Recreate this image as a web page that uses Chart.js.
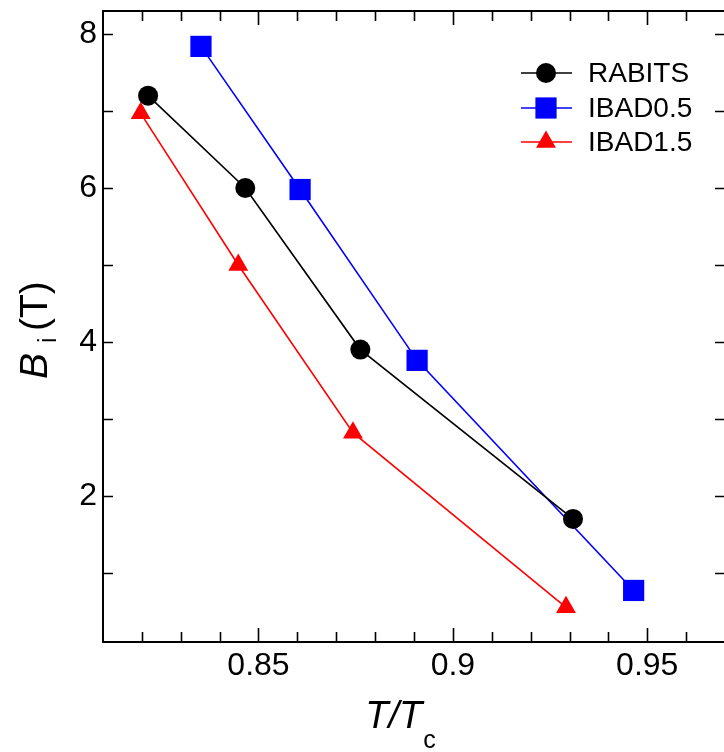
<!DOCTYPE html>
<html>
<head>
<meta charset="utf-8">
<script src="https://cdn.jsdelivr.net/npm/chart.js@4.4.0/dist/chart.umd.min.js"></script>
<style>
  html, body { margin: 0; padding: 0; background: #fff; }
  #wrap { width: 724px; height: 752px; overflow: hidden; }
  #myChart { display: block; margin-top: -5px; }
</style>
</head>
<body>
<div id="wrap"><canvas id="myChart" width="740" height="757"></canvas></div>
<script>
// T/Tc and B_i (tesla) for each tape
const rabitsX = [0.8216, 0.8466, 0.8762, 0.9309];
const rabitsY = [7.2, 6.0, 3.9, 1.7];
const ibad05X = [0.8352, 0.8607, 0.8908, 0.9465];
const ibad05Y = [7.84, 5.98, 3.76, 0.77];
const ibad15X = [0.8197, 0.8448, 0.8743, 0.9291];
const ibad15Y = [6.97, 5.0, 2.82, 0.55];

const seriesNames = ['RABITS', 'IBAD0.5', 'IBAD1.5'];

// axis ticks
const xTicks = [0.82, 0.83, 0.84, 0.85, 0.86, 0.87, 0.88, 0.89, 0.9, 0.91, 0.92, 0.93, 0.94, 0.95, 0.96];
const xMajor = [0.85, 0.9, 0.95];
const xTickLabels = ['0.85', '0.9', '0.95'];
const yTicks = [1, 2, 3, 4, 5, 6, 7, 8];
const yMajor = [2, 4, 6, 8];
const yTickLabels = ['2', '4', '6', '8'];

function pts(xs, ys) {
  return xs.map((x, i) => ({ x: x, y: ys[i] }));
}
function near(a, b) { return Math.abs(a - b) < 1e-6; }
function labelFor(v, majors, labels) {
  const k = majors.findIndex(m => near(m, v));
  return k >= 0 ? labels[k] : '';
}

const FONT = '"Liberation Sans", Arial, sans-serif';
const SHIFT = 5; // canvas sits 5px above the page top

// inward tick marks on all four sides + the frame
const frameTicks = {
  id: 'frameTicks',
  afterDraw(chart) {
    const ctx = chart.ctx;
    const a = chart.chartArea;
    const xs = chart.scales.x, ys = chart.scales.y;
    ctx.save();
    ctx.strokeStyle = '#000';
    ctx.lineWidth = 2;
    ctx.strokeRect(a.left, a.top, a.right - a.left, a.bottom - a.top);
    ctx.lineWidth = 1.6;
    ctx.beginPath();
    xTicks.forEach(v => {
      const p = Math.round(xs.getPixelForValue(v)) + 0.5;
      const len = xMajor.some(m => near(m, v)) ? 14 : 10;
      ctx.moveTo(p, a.bottom); ctx.lineTo(p, a.bottom - len);
      ctx.moveTo(p, a.top); ctx.lineTo(p, a.top + len);
    });
    yTicks.forEach(v => {
      const p = Math.round(ys.getPixelForValue(v)) + 0.5;
      ctx.moveTo(a.left, p); ctx.lineTo(a.left + 10, p);
      ctx.moveTo(a.right, p); ctx.lineTo(a.right - 10, p);
    });
    ctx.stroke();
    ctx.restore();
  }
};

// axis titles with italic symbols and subscripts
const axisTitles = {
  id: 'axisTitles',
  afterDraw(chart) {
    const ctx = chart.ctx;
    ctx.save();
    ctx.translate(0, SHIFT);
    ctx.fillStyle = '#000';
    ctx.textBaseline = 'alphabetic';
    ctx.textAlign = 'left';

    // x: T/Tc
    const big = 'italic 38px ' + FONT;
    const sub = '25px ' + FONT;
    ctx.font = big;
    const wMain = ctx.measureText('T/T').width;
    ctx.font = sub;
    const wSub = ctx.measureText('c').width;
    let x0 = 400 - (wMain + wSub) / 2;
    ctx.font = big;
    ctx.fillText('T/T', x0, 728);
    ctx.font = sub;
    ctx.fillText('c', x0 + wMain + 1, 748);

    // y: B_i(T), rotated
    ctx.translate(47, 379);
    ctx.rotate(-Math.PI / 2);
    ctx.font = 'italic 39px ' + FONT;
    ctx.fillText('B', 0, 0);
    ctx.font = '25px ' + FONT;
    ctx.fillText('i', 36, 9);
    ctx.font = '39px ' + FONT;
    ctx.fillText('(T)', 48, 0);
    ctx.restore();
  }
};

// legend: short line with the marker in the middle
const lineLegend = {
  id: 'lineLegend',
  afterDraw(chart) {
    const ctx = chart.ctx;
    const rows = [73, 108, 142];
    ctx.save();
    ctx.translate(0, SHIFT);
    chart.data.datasets.forEach((ds, i) => {
      const y = rows[i];
      ctx.strokeStyle = ds.borderColor;
      ctx.lineWidth = 1.6;
      ctx.beginPath();
      ctx.moveTo(521, y); ctx.lineTo(572, y);
      ctx.stroke();
      ctx.fillStyle = ds.pointBackgroundColor;
      Chart.helpers.drawPoint(ctx, {
        pointStyle: ds.pointStyle, radius: ds.pointRadius, rotation: 0, borderWidth: 0
      }, 546, y);
      ctx.fillStyle = '#000';
      ctx.font = '28px ' + FONT;
      ctx.textBaseline = 'middle';
      ctx.textAlign = 'left';
      ctx.fillText(ds.label, 588, y + 1);
    });
    ctx.restore();
  }
};

function series(label, data, color, style, r) {
  return {
    label: label,
    data: data,
    borderColor: color,
    backgroundColor: color,
    pointBackgroundColor: color,
    pointBorderWidth: 0,
    pointStyle: style,
    pointRadius: r,
    pointHoverRadius: r,
    borderWidth: 1.6,
    tension: 0,
    clip: false
  };
}

const ctx = document.getElementById('myChart').getContext('2d');
const myChart = new Chart(ctx, {
  type: 'line',
  data: {
    datasets: [
      series(seriesNames[0], pts(rabitsX, rabitsY), '#000000', 'circle', 10),
      series(seriesNames[1], pts(ibad05X, ibad05Y), '#0000ff', 'rect', 15),
      series(seriesNames[2], pts(ibad15X, ibad15Y), '#ff0000', 'triangle', 11.5)
    ]
  },
  options: {
    responsive: false,
    animation: false,
    events: [],
    layout: { padding: { top: 16, right: 11, left: 0, bottom: 0 } },
    plugins: { legend: { display: false }, tooltip: { enabled: false } },
    scales: {
      x: {
        type: 'linear',
        min: 0.81,
        max: 0.97,
        afterBuildTicks: s => { s.ticks = xTicks.map(v => ({ value: v })); },
        afterFit: s => { s.height = 110; s.paddingLeft = 0; s.paddingRight = 0; },
        grid: { display: false, drawTicks: false, tickLength: 0 },
        border: { display: false },
        ticks: {
          autoSkip: false,
          maxRotation: 0,
          padding: 5,
          color: '#000',
          font: { family: FONT, size: 32 },
          callback: v => labelFor(v, xMajor, xTickLabels)
        }
      },
      y: {
        type: 'linear',
        min: 0.1,
        max: 8.3,
        afterBuildTicks: s => { s.ticks = yTicks.map(v => ({ value: v })); },
        afterFit: s => { s.width = 103; s.paddingTop = 0; s.paddingBottom = 0; },
        grid: { display: false, drawTicks: false, tickLength: 0 },
        border: { display: false },
        ticks: {
          autoSkip: false,
          padding: 6,
          color: '#000',
          font: { family: FONT, size: 32 },
          callback: v => labelFor(v, yMajor, yTickLabels)
        }
      }
    }
  },
  plugins: [frameTicks, axisTitles, lineLegend]
});
</script>
</body>
</html>
